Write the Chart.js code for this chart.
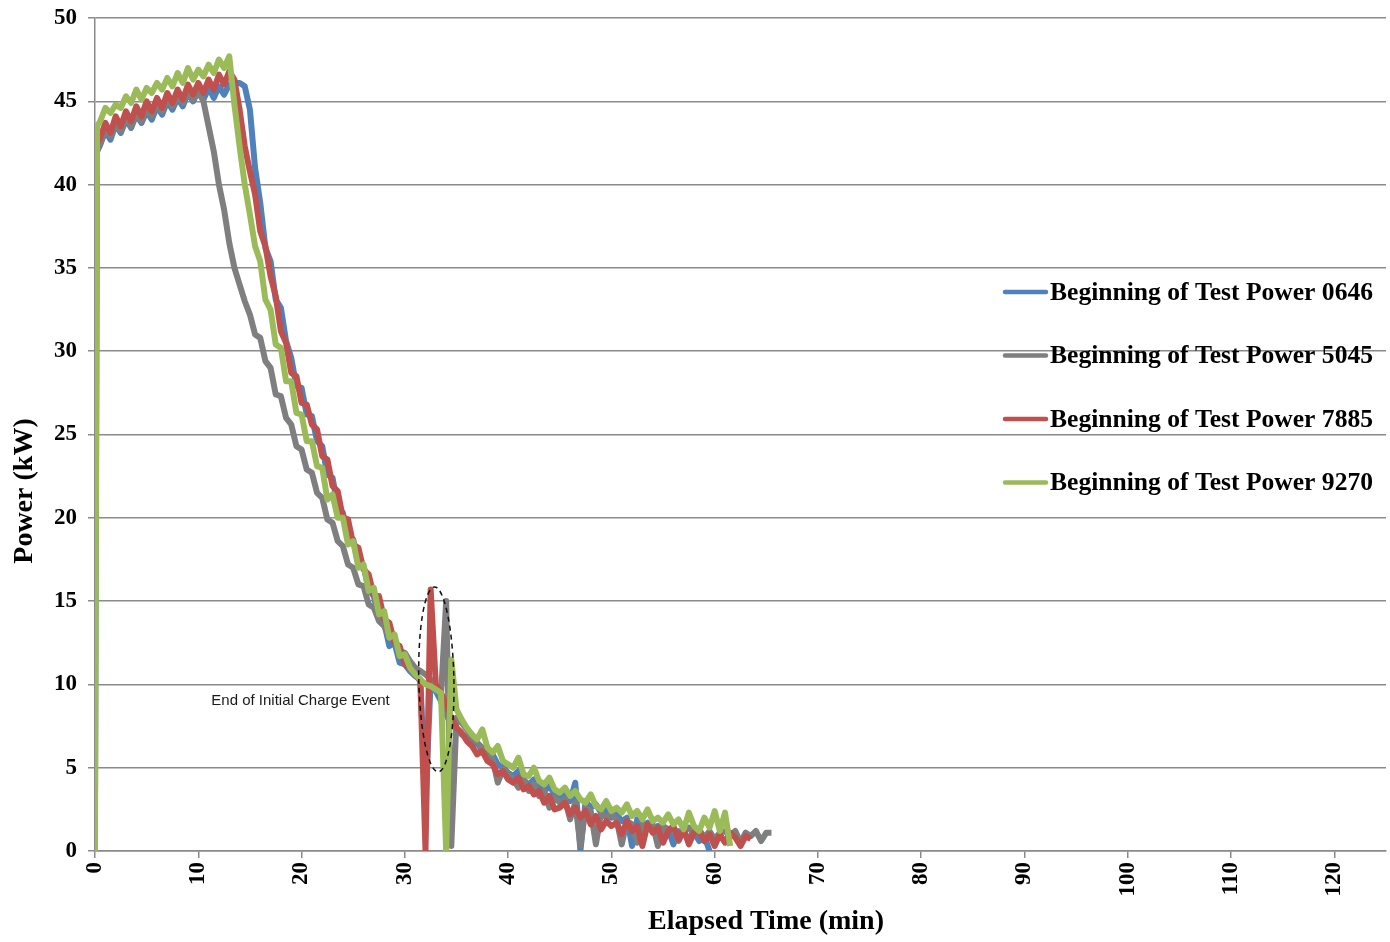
<!DOCTYPE html>
<html>
<head>
<meta charset="utf-8">
<title>Beginning of Test Power</title>
<script src="https://cdn.jsdelivr.net/npm/chart.js@4.4.1/dist/chart.umd.min.js"></script>
<style>
  html, body { margin: 0; padding: 0; background: #fff; }
  #wrap { width: 1390px; height: 942px; position: relative; }
</style>
</head>
<body>
<div id="wrap"><canvas id="myChart"></canvas></div>
<script>
// elapsed time grid (min)
const elapsedMin = [0, 0.2,
  0.5, 1, 1.5, 2, 2.5, 3, 3.5, 4, 4.5, 5,
  5.5, 6, 6.5, 7, 7.5, 8, 8.5, 9, 9.5, 10,
  10.5, 11, 11.5, 12, 12.5, 13, 13.5, 14, 14.5, 15,
  15.5, 16, 16.5, 17, 17.5, 18, 18.5, 19, 19.5, 20,
  20.5, 21, 21.5, 22, 22.5, 23, 23.5, 24, 24.5, 25,
  25.5, 26, 26.5, 27, 27.5, 28, 28.5, 29, 29.5, 30,
  30.5, 31, 31.5, 32, 32.5, 33, 33.5, 34, 34.5, 35,
  35.5, 36, 36.5, 37, 37.5, 38, 38.5, 39, 39.5, 40,
  40.5, 41, 41.5, 42, 42.5, 43, 43.5, 44, 44.5, 45,
  45.5, 46, 46.5, 47, 47.5, 48, 48.5, 49, 49.5, 50,
  50.5, 51, 51.5, 52, 52.5, 53, 53.5, 54, 54.5, 55,
  55.5, 56, 56.5, 57, 57.5, 58, 58.5, 59, 59.5, 60,
  60.5, 61, 61.5, 62, 62.5, 63, 63.5, 64, 64.5, 65,
  65.5];

// power (kW) per test
const power0646 = [2.7, 42.0,
  42.4, 43.2, 42.7, 43.6, 43.1, 43.9, 43.4, 44.2, 43.7, 44.4,
  43.9, 44.7, 44.2, 45.0, 44.5, 45.2, 44.7, 45.5, 45.0, 45.6,
  45.1, 45.8, 45.2, 45.9, 45.4, 46.0, 46.1, 46.1, 45.9, 44.5,
  41.0, 38.9, 36.2, 35.4, 33.1, 32.6, 30.6, 29.6, 27.9, 27.8,
  26.2, 26.1, 24.6, 24.3, 22.6, 22.4, 20.7, 20.3, 18.9, 18.7,
  17.3, 17.1, 15.7, 15.3, 13.9, 13.7, 12.3, 12.5, 11.3, 11.2,
  10.8, 10.5, 10.3, 3.0, 10.2, 9.6, 9.0, 8.2, 7.6, 7.3,
  7.0, 6.8, 6.4, 6.5, 6.0, 5.6, 5.8, 5.2, 5.0, 4.7,
  4.5, 4.8, 4.2, 4.0, 4.3, 3.8, 3.6, 3.9, 3.4, 3.2,
  3.4, 3.0, 4.1, 0.0, 3.0, 2.6, 2.8, 2.3, 2.5, 2.0,
  2.2, 1.8, 2.0, 0.3, 1.9, 1.5, 1.7, 1.2, 1.5, 1.0,
  1.3, 0.4, 1.2, 1.0, 0.8, 1.1, 0.6, 0.9, 0.0];

const power5045 = [41.5, 42.0,
  42.4, 43.4, 42.9, 43.7, 43.2, 44.0, 43.5, 44.3, 43.8, 44.6,
  44.1, 44.9, 44.4, 45.2, 44.7, 45.4, 44.9, 45.6, 45.1, 45.6,
  45.0, 43.5, 42.0, 40.0, 38.5, 36.5, 35.0, 34.0, 33.0, 32.2,
  31.0, 30.8, 29.4, 29.0, 27.4, 27.3, 26.0, 25.6, 24.3, 24.1,
  22.9, 22.7, 21.5, 21.2, 19.9, 19.7, 18.6, 18.3, 17.2, 17.0,
  16.0, 15.9, 14.8, 14.6, 13.8, 13.5, 12.8, 12.7, 12.0, 11.9,
  11.4, 11.0, 10.8, 10.6, 10.3, 9.9, 9.3, 15.0, 0.3, 8.0,
  7.7, 7.3, 6.8, 6.5, 6.2, 5.9, 5.5, 4.1, 4.9, 4.6,
  4.3, 3.8, 4.4, 3.6, 4.0, 3.3, 3.6, 2.6, 3.2, 2.9,
  3.1, 1.9, 2.9, 0.3, 2.6, 2.4, 0.4, 2.3, 2.0, 2.2,
  1.9, 0.4, 1.8, 1.6, 0.5, 1.7, 1.4, 1.6, 0.3, 1.5,
  1.3, 1.4, 0.6, 1.2, 1.4, 1.0, 1.3, 0.8, 1.2, 0.7,
  1.1, 1.2, 0.9, 1.2, 0.5, 1.1, 0.9, 1.2, 0.6, 1.1,
  1.1];

const power7885 = [41.0, 42.5,
  42.8, 43.7, 43.1, 44.1, 43.5, 44.4, 43.8, 44.7, 44.1, 45.0,
  44.4, 45.2, 44.6, 45.5, 44.9, 45.7, 45.1, 46.0, 45.4, 46.1,
  45.5, 46.3, 45.7, 46.6, 46.0, 46.8, 46.3, 44.5, 42.3, 40.8,
  39.4, 37.2, 36.3, 34.5, 33.3, 31.2, 30.5, 28.7, 28.5, 26.9,
  26.8, 25.6, 25.3, 23.7, 23.5, 21.9, 21.6, 20.0, 19.9, 18.4,
  18.2, 16.9, 16.6, 15.3, 15.3, 13.9, 13.7, 12.5, 12.3, 11.2,
  11.0, 10.6, 10.2, 0.0, 15.7, 10.0, 9.5, 8.8, 8.0, 7.4,
  7.1, 6.6, 6.3, 5.8, 6.0, 5.4, 5.2, 4.6, 4.8, 4.3,
  4.1, 4.4, 3.7, 3.9, 3.4, 3.6, 2.9, 3.3, 2.5, 2.6,
  2.9, 2.2, 2.6, 2.0, 2.4, 1.6, 2.1, 1.3, 1.8, 1.5,
  1.7, 1.0, 1.8, 1.2, 1.5, 0.3, 1.6, 1.1, 1.4, 0.5,
  1.2, 1.5, 0.7, 1.3, 0.4, 1.1, 1.2, 0.6, 1.0, 0.3,
  1.0, 0.5, 1.1, 0.8, 0.3, 0.9, 0.7];

const power9270 = [0.0, 43.5,
  43.8, 44.6, 44.3, 44.8, 44.6, 45.3, 44.9, 45.7, 45.1, 45.8,
  45.5, 46.1, 45.7, 46.4, 45.9, 46.7, 46.1, 47.0, 46.3, 46.9,
  46.5, 47.2, 46.7, 47.5, 47.0, 47.7, 44.8, 42.3, 40.0, 38.2,
  36.3, 35.4, 33.1, 32.5, 30.4, 30.2, 28.2, 28.2, 26.3, 26.2,
  24.6, 24.6, 23.1, 23.0, 21.1, 21.4, 20.0, 20.0, 18.4, 18.6,
  17.0, 17.2, 15.6, 15.8, 14.2, 14.4, 12.8, 13.0, 11.7, 11.8,
  11.0, 10.6, 10.3, 10.0, 9.9, 9.7, 9.5, 0.0, 11.5, 8.5,
  7.9, 7.4, 7.0, 6.7, 7.3, 6.2, 5.9, 6.3, 5.4, 5.2,
  5.0, 5.6, 4.6, 4.5, 5.0, 4.2, 4.0, 4.4, 3.7, 3.5,
  3.8, 3.3, 3.6, 3.1, 2.9, 3.4, 2.7, 2.5, 3.0, 2.4,
  2.6, 2.3, 2.8, 2.1, 2.4, 1.9, 2.5, 1.8, 2.0, 1.7,
  2.2, 1.6, 1.9, 1.3, 2.3, 1.5, 1.2, 2.0, 1.4, 2.4,
  1.2, 2.3, 0.3];

const seriesNames = ['Beginning of Test Power 0646', 'Beginning of Test Power 5045',
  'Beginning of Test Power 7885', 'Beginning of Test Power 9270'];
const seriesColors = ['#4f81bd', '#7f7f7f', '#c0504d', '#9bbb59'];
const yTicks = [0, 5, 10, 15, 20, 25, 30, 35, 40, 45, 50];
const xTicks = [0, 10, 20, 30, 40, 50, 60, 70, 80, 90, 100, 110, 120];

const noteText = 'End of Initial Charge Event';
const noteAt = [19.9, 9.0];       // min, kW
const ringCenter = [33.05, 10.3]; // min, kW
const ringRadius = [1.7, 5.55];   // min, kW

const allSeries = [power0646, power5045, power7885, power9270];

function toPoints(vals) {
    return vals.map(function (v, i) { return {x: elapsedMin[i], y: v}; });
}

const serif = '"Liberation Serif", "Times New Roman", serif';

const extras = {
    id: 'extras',
    afterDatasetsDraw(chart) {
        const ctx = chart.ctx;
        const x = chart.scales.x, y = chart.scales.y;

        // dashed ring round the spikes
        ctx.save();
        ctx.setLineDash([5, 4]);
        ctx.strokeStyle = '#111';
        ctx.lineWidth = 1.5;
        ctx.beginPath();
        const cx = x.getPixelForValue(ringCenter[0]);
        const cy = y.getPixelForValue(ringCenter[1]);
        const rx = x.getPixelForValue(ringRadius[0]) - x.getPixelForValue(0);
        const ry = y.getPixelForValue(0) - y.getPixelForValue(ringRadius[1]);
        ctx.ellipse(cx, cy, rx, ry, -0.02, 0, Math.PI * 2);
        ctx.stroke();
        ctx.restore();

        // note
        ctx.save();
        ctx.fillStyle = '#1a1a1a';
        ctx.font = '15px "Liberation Sans", Arial, sans-serif';
        ctx.textAlign = 'center';
        ctx.textBaseline = 'middle';
        ctx.fillText(noteText, x.getPixelForValue(noteAt[0]), y.getPixelForValue(noteAt[1]), 184);
        ctx.restore();

        // legend
        ctx.save();
        ctx.font = 'bold 26px ' + serif;
        ctx.textBaseline = 'middle';
        ctx.textAlign = 'left';
        for (let i = 0; i < seriesNames.length; i++) {
            const ly = 292 + i * 63.5;
            ctx.strokeStyle = seriesColors[i];
            ctx.lineWidth = 4.5;
            ctx.lineCap = 'round';
            ctx.beginPath();
            ctx.moveTo(1005, ly);
            ctx.lineTo(1046, ly);
            ctx.stroke();
            ctx.fillStyle = '#000';
            ctx.fillText(seriesNames[i], 1050, ly + 1, 323);
        }
        ctx.restore();

        // axis titles
        ctx.save();
        ctx.fillStyle = '#000';
        ctx.font = 'bold 28px ' + serif;
        ctx.textAlign = 'center';
        ctx.textBaseline = 'middle';
        ctx.fillText('Elapsed Time (min)', 766, 922);
        ctx.translate(25, 491);
        ctx.rotate(-Math.PI / 2);
        ctx.fillText('Power (kW)', 0, 0);
        ctx.restore();
    }
};

new Chart(document.getElementById('myChart'), {
    type: 'line',
    data: {
        datasets: allSeries.map(function (vals, i) {
            return {
                label: seriesNames[i],
                data: toPoints(vals),
                borderColor: seriesColors[i],
                backgroundColor: seriesColors[i],
                borderWidth: 6,
                borderJoinStyle: 'round',
                pointRadius: 0,
                tension: 0,
                fill: false,
                order: 3 - i
            };
        })
    },
    options: {
        responsive: true,
        maintainAspectRatio: false,
        animation: false,
        layout: { padding: { top: 18, right: 4, left: 0, bottom: 0 } },
        plugins: {
            legend: { display: false },
            tooltip: { enabled: false }
        },
        scales: {
            x: {
                type: 'linear',
                min: 0,
                max: 125,
                afterFit: function (s) { s.height = 91; s.paddingLeft = 0; s.paddingRight = 0; },
                afterBuildTicks: function (s) { s.ticks = xTicks.map(function (v) { return {value: v}; }); },
                ticks: {
                    minRotation: 90,
                    maxRotation: 90,
                    padding: 4,
                    color: '#000',
                    font: { family: serif, size: 23, weight: 'bold' }
                },
                grid: { drawOnChartArea: false, drawTicks: true, tickLength: 7, color: '#8a8a8a', lineWidth: 1.5 },
                border: { display: true, color: '#8a8a8a', width: 1.5 }
            },
            y: {
                min: 0,
                max: 50,
                afterFit: function (s) { s.width = 95; s.paddingTop = 0; s.paddingBottom = 0; },
                afterBuildTicks: function (s) { s.ticks = yTicks.map(function (v) { return {value: v}; }); },
                ticks: {
                    padding: 11,
                    color: '#000',
                    font: { family: serif, size: 23, weight: 'bold' }
                },
                grid: { drawTicks: true, tickLength: 7, color: '#8a8a8a', lineWidth: 1.5 },
                border: { display: true, color: '#8a8a8a', width: 1.5 }
            }
        }
    },
    plugins: [extras]
});
</script>
</body>
</html>
